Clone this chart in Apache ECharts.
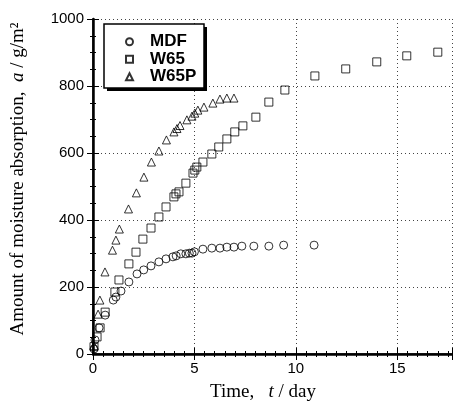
<!DOCTYPE html>
<html><head><meta charset="utf-8">
<script src="https://cdn.jsdelivr.net/npm/echarts@6/dist/echarts.min.js"></script>
<style>html,body{margin:0;padding:0;background:#fff}#c{width:453px;height:402px}</style>
</head><body><div id="c"></div>
<script>
// Time t / day and absorption a / g/m^2 for each specimen
const mdfT = [0.05,0.1,0.3,0.6,1.0,1.13,1.38,1.77,2.17,2.5,2.86,3.25,3.6,3.94,4.1,4.33,4.58,4.75,4.88,5.0,5.42,5.86,6.26,6.6,6.95,7.34,7.93,8.67,9.4,10.9];
const mdfA = [15,42,78,116,161,170,188,215,239,251,263,275,284,290,293,299,299,301,301,305,313,316,316,319,319,322,322,322,325,325];
const w65T = [0.05,0.2,0.35,0.6,1.08,1.28,1.77,2.12,2.46,2.86,3.25,3.6,3.99,4.09,4.24,4.58,4.93,5.02,5.12,5.42,5.86,6.2,6.6,6.99,7.39,8.03,8.67,9.46,10.94,12.46,13.99,15.47,17.0];
const w65A = [22,51,78,125,185,221,269,304,343,376,409,439,469,478,484,510,540,549,558,573,597,618,642,663,681,707,752,788,830,851,872,890,901];
const w65pT = [0.05,0.25,0.34,0.59,0.96,1.13,1.3,1.75,2.14,2.51,2.88,3.25,3.62,3.99,4.14,4.29,4.63,4.88,5.02,5.17,5.47,5.91,6.26,6.6,6.95];
const w65pA = [25,119,161,245,310,340,373,433,481,528,573,606,639,663,673,682,699,710,719,728,737,749,761,764,764];
const seriesNames = ['MDF','W65','W65P'];
const xTicks = [0,5,10,15];
const yTicks = [0,200,400,600,800,1000];

const zip = (t,a) => t.map((v,i)=>[v,a[i]]);
const chart = echarts.init(document.getElementById('c'), null, {renderer:'canvas'});
const sans = '"Liberation Sans", Arial, sans-serif';
const serif = '"Liberation Serif", "Times New Roman", serif';
const hollow = {color:'rgba(255,255,255,0)', borderColor:'#000', borderWidth:1};
const xMin = xTicks[0], xMax = 17.7, yMin = yTicks[0], yMax = yTicks[yTicks.length-1];
const grid = {left:93, top:19, width:359, height:335};

chart.setOption({
  animation:false,
  backgroundColor:'#fff',
  grid: grid,
  legend: {
    left:104, top:24, orient:'vertical',
    data: seriesNames,
    itemWidth:7, itemHeight:7, itemGap:0,
    padding:[9,8,8,21],
    textStyle:{fontFamily:sans, fontSize:17, fontWeight:'bold', color:'#000', lineHeight:17.5, padding:[0,0,0,12]},
    z:10
  },
  xAxis: [{
    type:'value', min:xMin, max:xMax, interval:5, position:'bottom',
    axisLine:{lineStyle:{color:'#000', width:2.5}},
    axisTick:{inside:true, length:6, lineStyle:{color:'#000', width:1}},
    minorTick:{show:true, splitNumber:10, length:3, lineStyle:{color:'#000'}},
    axisLabel:{color:'#000', fontFamily:sans, fontSize:15, margin:7, showMaxLabel:false},
    splitLine:{show:true, lineStyle:{color:'#444', width:1, type:[1,3]}}
  },{
    type:'value', min:xMin, max:xMax, interval:5, position:'top',
    axisLine:{lineStyle:{color:'#000', width:1.5}},
    axisTick:{inside:true, length:6, lineStyle:{color:'#000'}},
    minorTick:{show:true, splitNumber:10, length:3, lineStyle:{color:'#000'}},
    axisLabel:{show:false}, splitLine:{show:false}
  }],
  yAxis: [{
    type:'value', min:yMin, max:yMax, interval:200, position:'left',
    axisLine:{lineStyle:{color:'#000', width:2.5}},
    axisTick:{inside:true, length:6, lineStyle:{color:'#000'}},
    minorTick:{show:true, splitNumber:4, length:3, lineStyle:{color:'#000'}},
    axisLabel:{color:'#000', fontFamily:sans, fontSize:15, margin:9, formatter:v=>String(v)},
    splitLine:{show:true, lineStyle:{color:'#444', width:1, type:[1,3]}}
  },{
    type:'value', min:yMin, max:yMax, interval:200, position:'right',
    axisLine:{lineStyle:{color:'#000', width:1.5}},
    axisTick:{inside:true, length:6, lineStyle:{color:'#000'}},
    minorTick:{show:true, splitNumber:4, length:3, lineStyle:{color:'#000'}},
    axisLabel:{show:false}, splitLine:{show:false}
  }],
  series: [
    {name:seriesNames[0], type:'scatter', symbol:'circle', symbolSize:8, itemStyle:hollow, data:zip(mdfT,mdfA)},
    {name:seriesNames[1], type:'scatter', symbol:'rect', symbolSize:8, itemStyle:hollow, data:zip(w65T,w65A)},
    {name:seriesNames[2], type:'scatter', symbol:'triangle', symbolSize:8, itemStyle:hollow, data:zip(w65pT,w65pA)}
  ],
  graphic: [
    {type:'rect', z:8, shape:{x:107, y:27, width:100, height:64}, style:{fill:'#000'}},
    {type:'rect', z:9, shape:{x:104, y:24, width:100, height:64}, style:{fill:'#fff', stroke:'#000', lineWidth:1.5}},
    {type:'text', x:263, y:392, style:{
      text:'Time,   {i|t} / day', fill:'#000', font:'19px '+serif, align:'center', verticalAlign:'middle',
      rich:{i:{fontStyle:'italic', fontFamily:serif, fontSize:19}}
    }},
    {type:'text', x:18, y:179, rotation:Math.PI/2, style:{
      text:'Amount of moisture absorption,  {i|a} / g/m²', fill:'#000', font:'19px '+serif, align:'center', verticalAlign:'middle',
      rich:{i:{fontStyle:'italic', fontFamily:serif, fontSize:19}}
    }}
  ]
});
</script></body></html>
